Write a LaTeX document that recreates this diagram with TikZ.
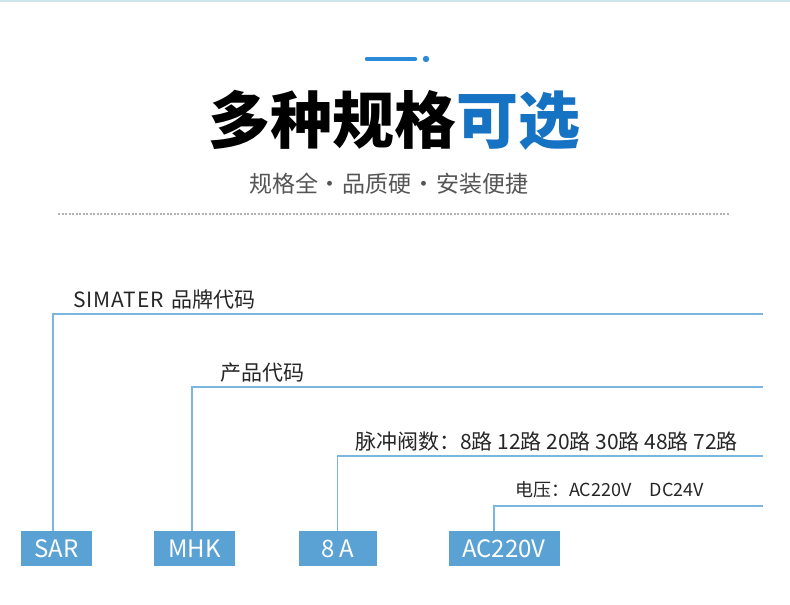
\documentclass[tikz,border=0pt]{standalone}
\usepackage{fontspec}
\setmainfont{Noto Sans CJK SC}[BoldFont={Noto Sans CJK SC Black}]
\definecolor{titleblue}{HTML}{1672C2}
\definecolor{accent}{HTML}{2A8AD8}
\definecolor{boxblue}{HTML}{5BA2D4}
\definecolor{linkblue}{HTML}{7AB6DF}
\definecolor{subgray}{HTML}{555555}
\definecolor{topline}{HTML}{CFE3EC}
\tikzset{
  lbl/.style={anchor=west, inner sep=0pt, text=black!85},
  bigl/.style={lbl, font=\fontsize{21}{21}\selectfont},
  smalll/.style={lbl, font=\fontsize{18}{18}\selectfont},
  codebox/.style={fill=boxblue, text=white, minimum height=35pt, inner sep=0pt, font=\fontsize{24}{24}\selectfont},
  conn/.style={draw=linkblue, line width=1.3pt},
}
\newcommand{\sdot}{\makebox[25pt]{·}}
\begin{document}
\begin{tikzpicture}[x=1pt,y=-1pt]
\useasboundingbox (0,0) rectangle (790,605);
\fill[white] (0,0) rectangle (790,605);
\draw[topline, line width=1.5pt] (0,0.75) -- (790,0.75);
% accent
\draw[accent, line width=4.5pt, line cap=round] (367,59) -- (415,59);
\fill[accent] (426,59) circle (3.2);
% title
\node[inner sep=0pt, font=\fontsize{62}{62}\selectfont\bfseries] (title) at (394.5,120) {多种规格\textcolor{titleblue}{可选}};
\node[inner sep=0pt, text=subgray, font=\fontsize{23}{23}\selectfont] (sub) at (389,184) {规格全\sdot 品质硬\sdot 安装便捷};
\draw[gray!60, line width=1.3pt, dash pattern=on 2pt off 1.5pt] (58,214) -- (730,214);
% labels
\node[bigl] (l1) at (73,300) {{\addfontfeatures{LetterSpace=4}SIMATER}\hspace{8pt}品牌代码};
\node[bigl] (l2) at (220,373) {产品代码};
\node[bigl] (l3) at (355,442) {脉冲阀数：8路 12路 20路 30路 48路 72路};
\node[smalll] (l4) at (515,490) {电压：AC220V\quad DC24V};
% boxes
\node[codebox, minimum width=71pt] (sar) at (56.5,548.5) {SAR};
\node[codebox, minimum width=81pt] (mhk) at (194.5,548.5) {MHK};
\node[codebox, minimum width=78.5pt] (amp) at (337.75,548.5) {8 A};
\node[codebox, minimum width=111pt] (volt) at (504,548.5) {AC220V};
% connectors
\coordinate (e1) at (763,314);
\coordinate (e2) at (763,387);
\coordinate (e3) at (763,456);
\coordinate (e4) at (763,506);
\draw[conn] ([xshift=-3.5pt]sar.north) |- (e1);
\draw[conn] ([xshift=-2.5pt]mhk.north) |- (e2);
\draw[conn] (amp.north) |- (e3);
\draw[conn] ([xshift=-10pt]volt.north) |- (e4);
\end{tikzpicture}
\end{document}
